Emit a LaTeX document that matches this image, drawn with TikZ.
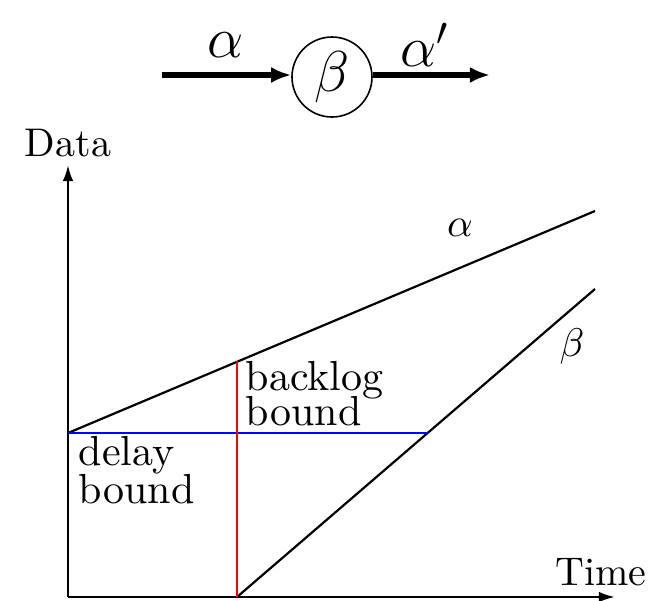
\documentclass[tikz,border=0pt]{standalone}
\usepackage{amsmath}
\usepackage{tikz}
\usetikzlibrary{calc}
\usetikzlibrary{arrows.meta,positioning}

\begin{document}
\begin{tikzpicture}[x=0.25pt, y=-0.25pt,
    flowarrow/.style={-{Latex[length=5pt,width=4pt]}, line width=1.3pt},
    axisline/.style={-{Latex[length=4pt,width=2.6pt]}, line width=0.55pt},
    curveline/.style={line width=0.55pt},
    boundline/.style={line width=0.65pt},
    lbl/.style={inner sep=0pt},
    boundtext/.style={anchor=base west, inner sep=0pt, font=\fontsize{10.5pt}{12pt}\selectfont}]
        \useasboundingbox (0,0) rectangle (667,601);

        % Server with arrival and departure
        \node [draw, circle, line width=0.4pt, minimum size=20pt, inner sep=0pt, font=\Large] (server) at (332,77) {$\beta$};
        \coordinate (in) at (162,75);
        \coordinate (out) at (490,75);
        \draw [flowarrow] (in) -- (server.west |- in);
        \draw [flowarrow] (server.east |- out) -- (out);
        \node [lbl, font=\Large] (arr) at (226,45) {$\alpha$};
        \node [lbl, font=\Large] (dep) at (425,45) {$\alpha'$};

        % Axes
        \coordinate (origin) at (68,597);
        \coordinate (ytip) at (68,165);
        \coordinate (xtip) at (615,597);
        \draw [axisline] (origin) -- (ytip);
        \draw [axisline] (origin) -- (xtip);
        \node (ylabel) at (68,143) {Data};
        \node (xlabel) at (601,572) {Time};

        % Arrival and service curves
        \coordinate (a0) at (68,433);
        \coordinate (a1) at (595,211);
        \coordinate (b0) at (237,597);
        \coordinate (b1) at (595,289);
        \draw [curveline] (a0) -- (a1);
        \draw [curveline] (b0) -- (b1);
        \node [lbl] (alabel) at (460,228) {$\alpha$};
        \node [lbl] (blabel) at (572,346) {$\beta$};

        % Delay and backlog bounds
        \coordinate (dend) at (427,433);
        \coordinate (btop) at (237,361);
        \draw [boundline, blue] (a0) -- (dend);
        \draw [boundline, red] (b0) -- (btop);
        \node [boundtext, text depth=0pt] (backlog) at (245,390) {backlog};
        \node [boundtext] (backlog2) at (245,426) {bound};
        \node [boundtext, text depth=0pt] (delay) at (78,465) {delay};
        \node [boundtext] (delay2) at (78,503) {bound};
\end{tikzpicture}
\end{document}
